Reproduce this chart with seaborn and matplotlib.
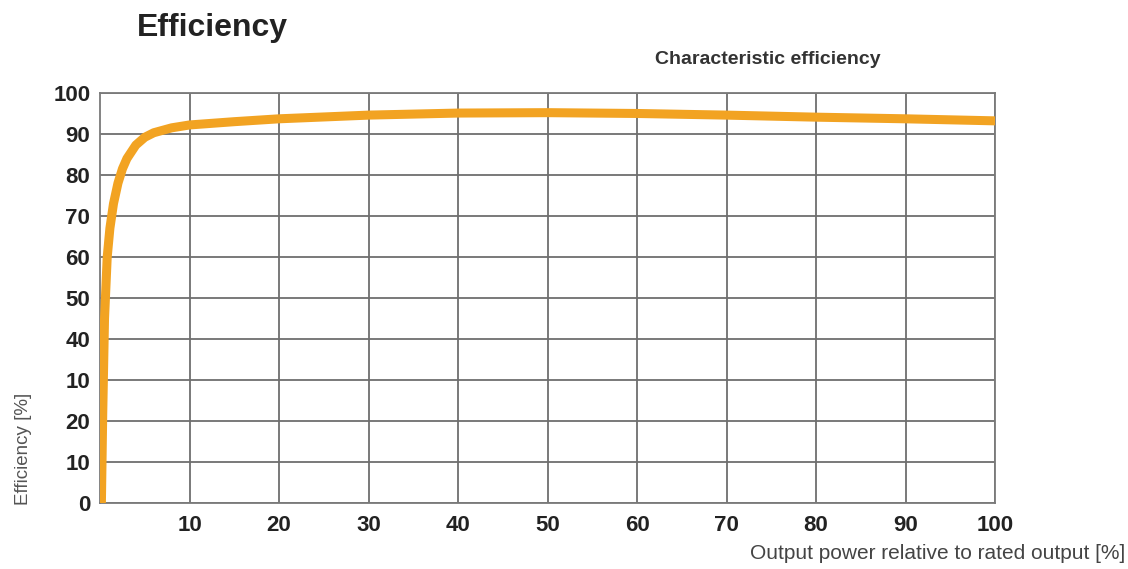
import matplotlib
matplotlib.use('Agg')
import pandas as pd
import seaborn as sns
import matplotlib.pyplot as plt

# curve
output_pct = [0.15, 0.3, 0.5, 0.8, 1.1, 1.5, 2.0, 2.5, 3.0, 4.0, 5.0, 6.0, 8.0,
              10, 15, 20, 30, 40, 50, 60, 70, 80, 90, 100]
efficiency = [0, 22, 45, 60, 67, 73, 78, 81.5, 84, 87.3, 89.2, 90.3, 91.5,
              92.2, 93.0, 93.7, 94.6, 95.1, 95.2, 95.0, 94.6, 94.1, 93.7, 93.2]

x_ticks = [10, 20, 30, 40, 50, 60, 70, 80, 90, 100]
y_ticks = [0, 10, 20, 30, 40, 50, 60, 70, 80, 90, 100]
y_tick_labels = ["0", "10", "20", "10", "40", "50", "60", "70", "80", "90", "100"]

df = pd.DataFrame({"output": output_pct, "eff": efficiency})

sns.set_style("white")
plt.rcParams['font.family'] = ['Liberation Sans', 'DejaVu Sans']

fig = plt.figure(figsize=(11.28, 5.69), dpi=100)
ax = fig.add_axes([0.0887, 0.116, 0.7935, 0.7206])

sns.lineplot(data=df, x="output", y="eff", ax=ax, color="#F2A322",
             linewidth=6.5, solid_capstyle="butt", zorder=3)

ax.set_xlim(0, 100)
ax.set_ylim(0, 100)
ax.set_xticks(x_ticks)
ax.set_yticks(y_ticks)
ax.set_yticklabels(y_tick_labels)
ax.tick_params(axis="both", length=0, labelsize=16, colors="#222222")
ax.tick_params(axis="x", pad=9)
ax.tick_params(axis="y", pad=7)
for lab in ax.get_xticklabels() + ax.get_yticklabels():
    lab.set_fontweight("bold")

ax.grid(True, color="#6e6e6e", linewidth=1.3)
for s in ax.spines.values():
    s.set_color("#7a7a7a")
    s.set_linewidth(1.3)

ax.set_xlabel("")
ax.set_ylabel("")
fig.text(0.021, 0.113, "Efficiency [%]", rotation=90, fontsize=13.5,
         color="#555555", ha="center", va="bottom")
fig.text(0.998, 0.01, "Output power relative to rated output [%]",
         fontsize=15, color="#444444", ha="right", va="bottom")
fig.text(0.121, 0.95, "Efficiency", fontsize=23, fontweight="bold",
         color="#222222", ha="left", va="center")
fig.text(0.581, 0.895, "Characteristic efficiency", fontsize=14,
         fontweight="bold", color="#333333", ha="left", va="center")

plt.savefig("out.png", dpi=100)
